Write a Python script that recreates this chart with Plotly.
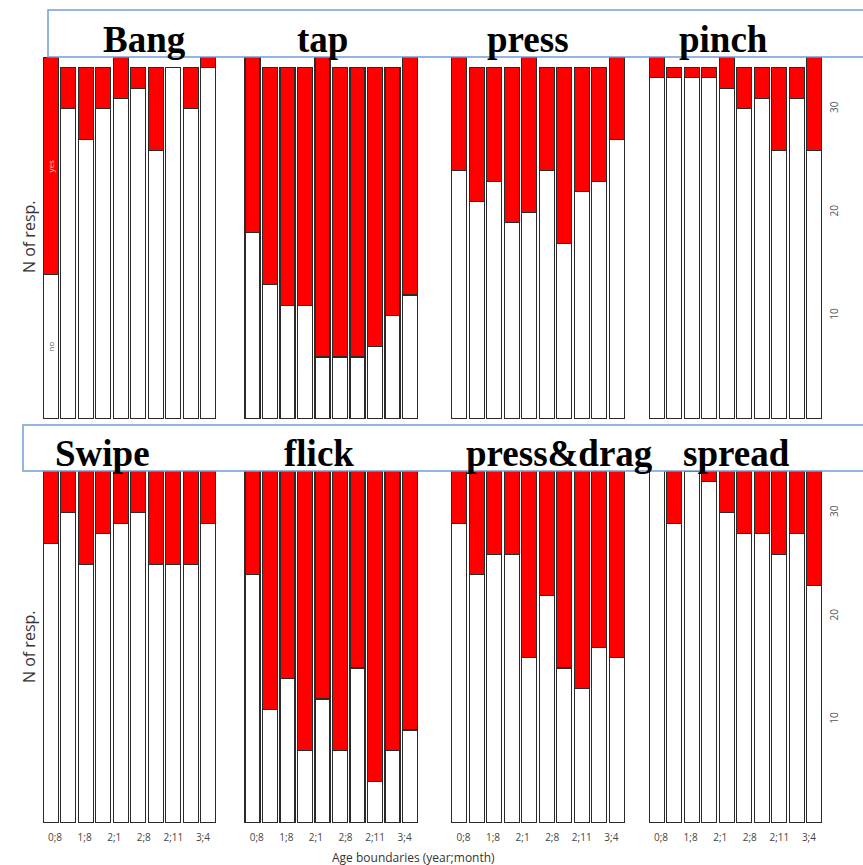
import numpy as np
import plotly.graph_objects as go

# ---------------- data ----------------
gestures = ["Bang", "tap", "press", "pinch", "Swipe", "flick", "press&drag", "spread"]
age_groups = list(range(10))  # ten age groups (bars) per panel
tick_labels = ["0;8", "1;8", "2;1", "2;8", "2;11", "3;4"]

totals = [35, 34, 34, 34, 35, 34, 34, 34, 34, 35]

bang_no = [14, 30, 27, 30, 31, 32, 26, 34, 30, 34]
tap_no = [18, 13, 11, 11, 6, 6, 6, 7, 10, 12]
press_no = [24, 21, 23, 19, 20, 24, 17, 22, 23, 27]
pinch_no = [33, 33, 33, 33, 32, 30, 31, 26, 31, 26]
swipe_no = [27, 30, 25, 28, 29, 30, 25, 25, 25, 29]
flick_no = [24, 11, 14, 7, 12, 7, 15, 4, 7, 9]
pressdrag_no = [29, 24, 26, 26, 16, 22, 15, 13, 17, 16]
spread_no = [35, 29, 34, 33, 30, 28, 28, 26, 28, 23]

no_values = [bang_no, tap_no, press_no, pinch_no,
             swipe_no, flick_no, pressdrag_no, spread_no]

# ---------------- layout helpers ----------------
W, H = 863, 865
col_left = [42.1, 243.8, 450.5, 648.1]
panel_w = 175.0
row_zero = [419.0, 823.0]   # pixel of value 0
px_per_unit = 10.34
y_max = 35.0

def xdom(c):
    return [col_left[c] / W, (col_left[c] + panel_w) / W]

def ydom(r):
    b = row_zero[r]
    t = b - y_max * px_per_unit
    return [1 - b / H, 1 - t / H]

fig = go.Figure()
layout = dict(
    width=W, height=H,
    margin=dict(l=0, r=0, t=0, b=0),
    paper_bgcolor="white", plot_bgcolor="white",
    barmode="stack", bargap=0.143,
    showlegend=False,
)

tick_pos = list(np.linspace(0.24, 8.69, len(tick_labels)))

for i, (g, no) in enumerate(zip(gestures, no_values)):
    r, c = divmod(i, 4)
    k = i + 1
    xa = "x" if k == 1 else f"x{k}"
    ya = "y" if k == 1 else f"y{k}"
    yes = [t - n for t, n in zip(totals, no)]
    fig.add_trace(go.Bar(x=age_groups, y=no, xaxis=xa, yaxis=ya,
                         marker=dict(color="white", line=dict(color="#2a2a2a", width=1.2)),
                         name="no"))
    fig.add_trace(go.Bar(x=age_groups, y=yes, xaxis=xa, yaxis=ya,
                         marker=dict(color="#ff0000", line=dict(color="#2a2a2a", width=1.2)),
                         name="yes"))
    xkey = "xaxis" if k == 1 else f"xaxis{k}"
    ykey = "yaxis" if k == 1 else f"yaxis{k}"
    xd = dict(domain=xdom(c), range=[-0.5, 9.5], anchor=ya,
              showgrid=False, zeroline=False, showline=False, ticks="")
    if r == 1:
        xd.update(tickmode="array", tickvals=tick_pos, ticktext=tick_labels,
                  showticklabels=True, tickangle=0,
                  tickfont=dict(family="Open Sans", size=10, color="#444"),
                  ticklabelstandoff=7)
    else:
        xd.update(showticklabels=False)
    yd = dict(domain=ydom(r), range=[0, y_max], anchor=xa,
              showgrid=False, zeroline=False, showline=False, ticks="")
    if c == 3:
        yd.update(side="right", tickmode="array", tickvals=[10, 20, 30],
                  ticktext=["10", "20", "30"], showticklabels=True, tickangle=-90,
                  tickfont=dict(family="Open Sans", size=10, color="#555"),
                  ticklabelstandoff=4)
    else:
        yd.update(showticklabels=False)
    layout[xkey] = xd
    layout[ykey] = yd

fig.update_layout(**layout)

# title boxes (white fill, blue border) drawn above bars
box_color = "#6f9fd8"
fig.add_shape(type="rect", xref="paper", yref="paper",
              x0=48 / W, x1=880 / W, y0=1 - 57 / H, y1=1 - 10 / H,
              fillcolor="white", line=dict(color=box_color, width=1.5), layer="above")
fig.add_shape(type="rect", xref="paper", yref="paper",
              x0=23 / W, x1=880 / W, y0=1 - 471 / H, y1=1 - 425 / H,
              fillcolor="white", line=dict(color=box_color, width=1.5), layer="above")

# panel titles
title_x = [144, 322, 528, 723, 102, 319, 559, 736]
title_y = [40, 40, 40, 40, 453, 453, 453, 453]
for g, tx, ty in zip(gestures, title_x, title_y):
    fig.add_annotation(text=f"<b>{g}</b>", xref="paper", yref="paper",
                       x=tx / W, y=1 - ty / H, xanchor="center", yanchor="middle",
                       showarrow=False,
                       font=dict(family="Liberation Serif", size=37, color="black"))

# left axis titles
for yc in [237, 647]:
    fig.add_annotation(text="N of resp.", xref="paper", yref="paper",
                       x=29 / W, y=1 - yc / H, textangle=-90, showarrow=False,
                       xanchor="center", yanchor="middle",
                       font=dict(family="Open Sans", size=16, color="#333"))

# bottom x-axis title
fig.add_annotation(text="Age boundaries (year;month)", xref="paper", yref="paper",
                   x=413 / W, y=1 - 857 / H, showarrow=False,
                   xanchor="center", yanchor="middle",
                   font=dict(family="Open Sans", size=12, color="#333"))

# in-bar category labels on first bar of first panel
fig.add_annotation(text="yes", xref="x", yref="y", x=0,
                   y=(bang_no[0] + totals[0]) / 2, textangle=-90, showarrow=False,
                   font=dict(family="Open Sans", size=8, color="#ffd0d0"))
fig.add_annotation(text="no", xref="x", yref="y", x=0,
                   y=bang_no[0] / 2, textangle=-90, showarrow=False,
                   font=dict(family="Open Sans", size=8, color="#666"))

fig.write_html("out.html")
